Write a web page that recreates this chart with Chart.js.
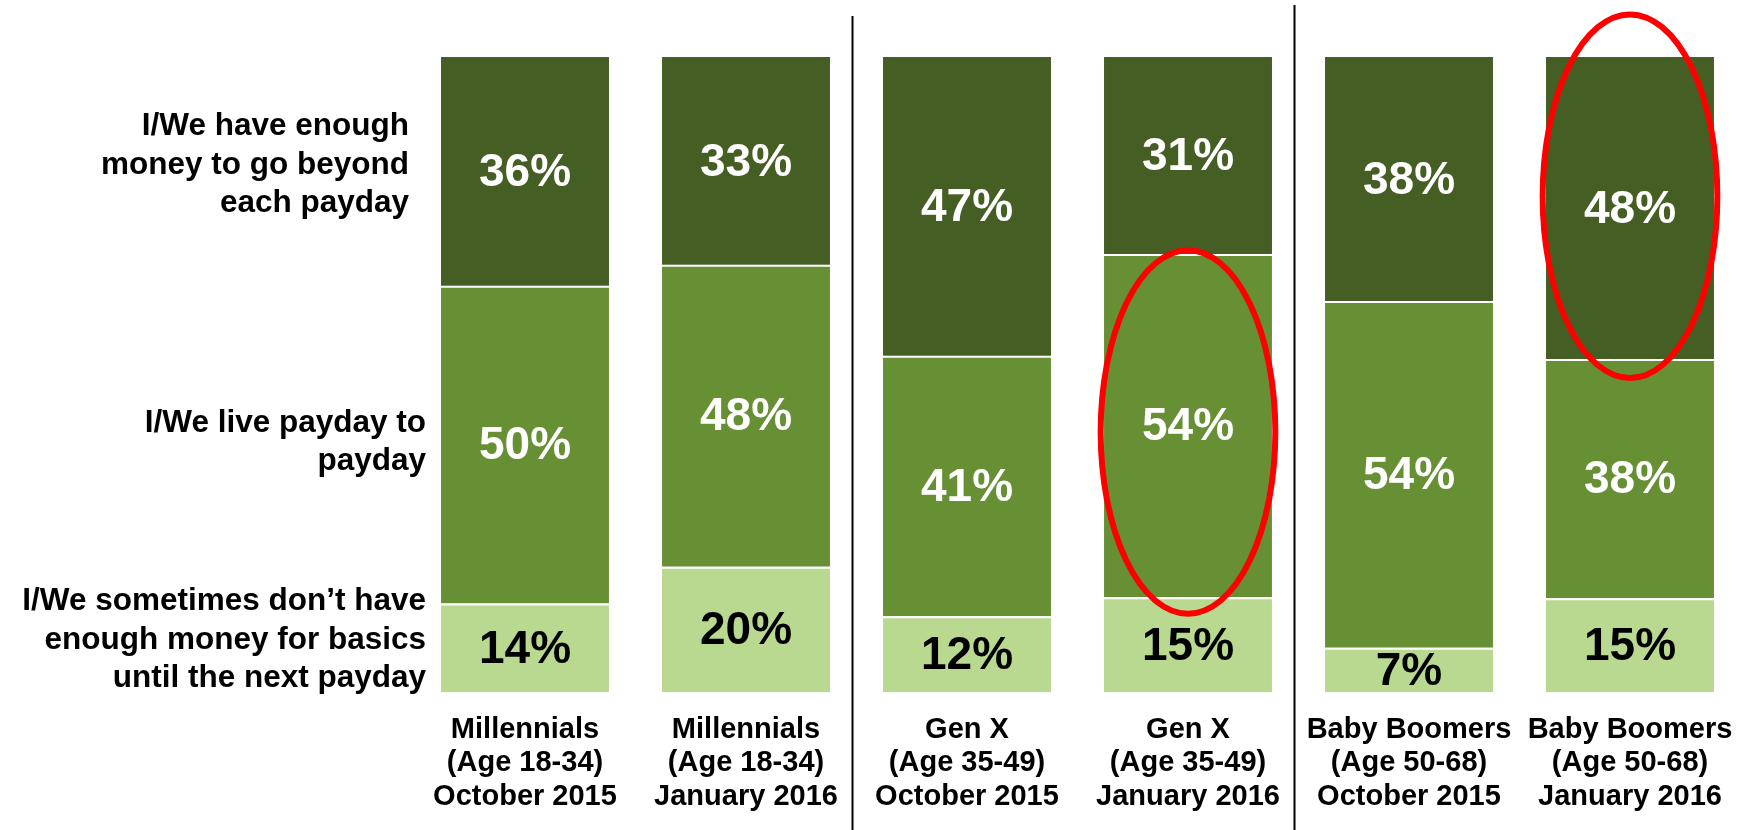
<!DOCTYPE html>
<html>
<head>
<meta charset="utf-8">
<script src="https://cdn.jsdelivr.net/npm/chart.js@4.4.1/dist/chart.umd.min.js"></script>
<style>
  html, body { margin: 0; padding: 0; background: #ffffff; }
  #wrap { width: 1746px; height: 830px; position: relative; }
</style>
</head>
<body>
<div id="wrap"><canvas id="c"></canvas></div>
<script>
// ---- data ----
const categories = [
  ["Millennials", "(Age 18-34)", "October 2015"],
  ["Millennials", "(Age 18-34)", "January 2016"],
  ["Gen X", "(Age 35-49)", "October 2015"],
  ["Gen X", "(Age 35-49)", "January 2016"],
  ["Baby Boomers", "(Age 50-68)", "October 2015"],
  ["Baby Boomers", "(Age 50-68)", "January 2016"]
];
const enoughBeyond   = [36, 33, 47, 31, 38, 48];
const paydayToPayday = [50, 48, 41, 54, 54, 38];
const notEnough      = [14, 20, 12, 15, 7, 15];
const seriesLabels = [
  ["I/We have enough", "money to go beyond", "each payday"],
  ["I/We live payday to", "payday"],
  ["I/We sometimes don\u2019t have", "enough money for basics", "until the next payday"]
];

// bars in the reference are drawn normalised to a full 100% stack
const totals = categories.map((_, i) => enoughBeyond[i] + paydayToPayday[i] + notEnough[i]);
const norm = arr => arr.map((v, i) => v / totals[i] * 100);

const FONT = "'Liberation Sans', Arial, Helvetica, sans-serif";
const DARK = '#455E23', MID = '#678F34', LIGHT = '#B9D890';

const overlayPlugin = {
  id: 'overlay',
  afterDatasetsDraw(chart) {
    const ctx = chart.ctx;
    const xs = chart.scales.x, ys = chart.scales.y;
    ctx.save();
    // value labels
    chart.data.datasets.forEach((ds, di) => {
      const meta = chart.getDatasetMeta(di);
      meta.data.forEach((bar, i) => {
        const cy = (bar.y + bar.base) / 2;
        ctx.font = 'bold 46px ' + FONT;
        ctx.fillStyle = ds.labelColor;
        ctx.textAlign = 'center';
        ctx.textBaseline = 'middle';
        ctx.fillText(ds.raw[i] + '%', bar.x, cy + 2);
      });
    });
    // category labels
    ctx.font = 'bold 29px ' + FONT;
    ctx.fillStyle = '#000';
    ctx.textAlign = 'center';
    ctx.textBaseline = 'middle';
    categories.forEach((lines, i) => {
      const x = xs.getPixelForValue(i);
      lines.forEach((t, k) => ctx.fillText(t, x, chart.chartArea.bottom + 37 + k * 33.5));
    });
    // series labels on the left
    ctx.font = 'bold 31.5px ' + FONT;
    ctx.textAlign = 'right';
    const leftSpec = [
      { lines: seriesLabels[0], v: 83.0, right: 409 },
      { lines: seriesLabels[1], v: 39.4, right: 426 },
      { lines: seriesLabels[2], v: 8.3, right: 426 }
    ];
    leftSpec.forEach(s => {
      const cy = ys.getPixelForValue(s.v);
      const n = s.lines.length;
      s.lines.forEach((t, k) => ctx.fillText(t, s.right, cy + (k - (n - 1) / 2) * 38.5));
    });
    // divider lines
    ctx.strokeStyle = '#000';
    ctx.lineWidth = 2;
    [{ after: 1, top: 16 }, { after: 3, top: 5 }].forEach(d => {
      const x = (xs.getPixelForValue(d.after) + xs.getPixelForValue(d.after + 1)) / 2 - 4;
      ctx.beginPath();
      ctx.moveTo(x, d.top);
      ctx.lineTo(x, chart.height);
      ctx.stroke();
    });
    // highlight ellipses
    ctx.strokeStyle = '#FF0000';
    ctx.lineWidth = 6;
    const barW = chart.getDatasetMeta(0).data[0].width;
    [{ i: 3, v: 41.0 }, { i: 5, v: 78.1 }].forEach(e => {
      const cx = xs.getPixelForValue(e.i);
      const cy = ys.getPixelForValue(e.v);
      const ry = ys.getPixelForValue(0) - ys.getPixelForValue(28.6);
      ctx.beginPath();
      ctx.ellipse(cx, cy, barW * 0.52, ry, 0, 0, Math.PI * 2);
      ctx.stroke();
    });
    ctx.restore();
  }
};

const segBorder = { top: 2, right: 0, bottom: 0, left: 0 };

new Chart(document.getElementById('c'), {
  type: 'bar',
  data: {
    labels: categories.map(c => c.join(' ')),
    datasets: [
      { label: seriesLabels[2].join(' '), data: norm(notEnough), raw: notEnough,
        backgroundColor: LIGHT, borderColor: '#ffffff', borderWidth: segBorder, borderSkipped: false, labelColor: '#000000' },
      { label: seriesLabels[1].join(' '), data: norm(paydayToPayday), raw: paydayToPayday,
        backgroundColor: MID, borderColor: '#ffffff', borderWidth: segBorder, borderSkipped: false, labelColor: '#ffffff' },
      { label: seriesLabels[0].join(' '), data: norm(enoughBeyond), raw: enoughBeyond,
        backgroundColor: DARK, borderWidth: 0, labelColor: '#ffffff' }
    ]
  },
  options: {
    responsive: true,
    maintainAspectRatio: false,
    animation: false,
    layout: { padding: { left: 414.5, right: 5.5, top: 57, bottom: 137.4 } },
    datasets: { bar: { categoryPercentage: 1.0, barPercentage: 0.76 } },
    plugins: { legend: { display: false }, tooltip: { enabled: false } },
    scales: {
      x: { stacked: true, display: false },
      y: { stacked: true, display: false, min: 0, max: 100 }
    }
  },
  plugins: [overlayPlugin]
});
</script>
</body>
</html>
